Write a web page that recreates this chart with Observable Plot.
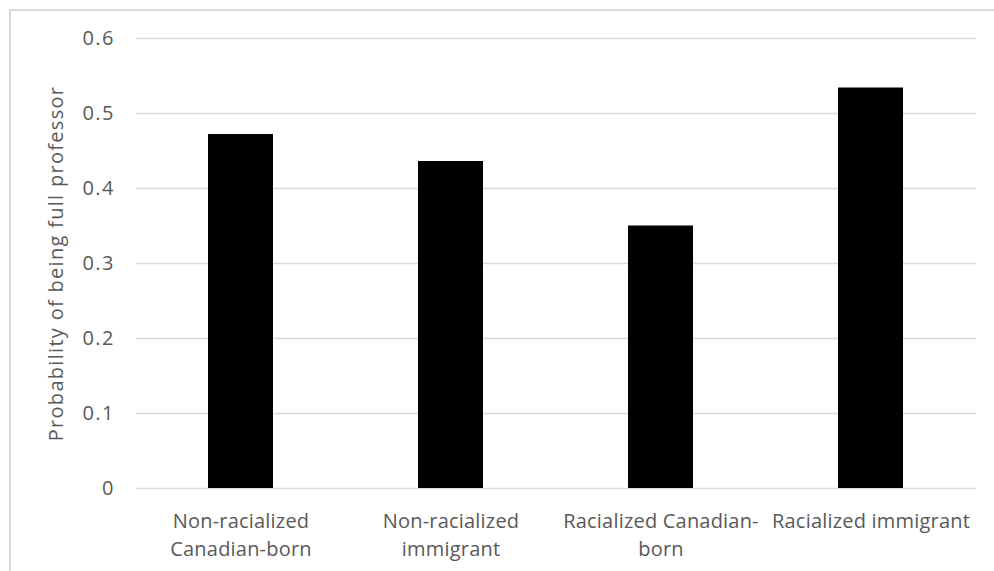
<!DOCTYPE html>
<html>
<head>
<meta charset="utf-8">
<script src="https://cdn.jsdelivr.net/npm/d3@7"></script>
<script src="https://cdn.jsdelivr.net/npm/@observablehq/plot@0.6"></script>
<style>
  html, body { margin: 0; padding: 0; background: #fff; }
  #chart { position: relative; width: 994px; height: 571px; overflow: hidden; }
  #edge { position: absolute; left: 9px; top: 9px; width: 1000px; height: 600px;
          border-left: 2px solid #d9d9d9; border-top: 2px solid #d9d9d9; }
  #chart svg { position: absolute; left: 0; top: 0; }
  #chart g[aria-label="y-axis label"] text { letter-spacing: 1.3px; }
  #chart g[aria-label="y-axis tick label"] text { letter-spacing: 1.5px; }
  #chart g[aria-label="x-axis tick label"] text { letter-spacing: 0.2px; }
</style>
</head>
<body>
<div id="chart"><div id="edge"></div></div>
<script>
// Probability of holding the rank of full professor, by group
const groups = [
  "Non-racialized Canadian-born",
  "Non-racialized immigrant",
  "Racialized Canadian-born",
  "Racialized immigrant"
];
const probabilities = [0.472, 0.436, 0.35, 0.534];
const groupLabels = [
  "Non-racialized\nCanadian-born",
  "Non-racialized\nimmigrant",
  "Racialized Canadian-\nborn",
  "Racialized immigrant"
];
const yTicks = [0, 0.1, 0.2, 0.3, 0.4, 0.5, 0.6];

const rows = groups.map((g, i) => ({group: g, p: probabilities[i]}));
const labelOf = new Map(groups.map((g, i) => [g, groupLabels[i]]));

const chart = Plot.plot({
  width: 994,
  height: 571,
  marginLeft: 136,
  marginRight: 18,
  marginTop: 38,
  marginBottom: 83,
  style: {
    fontFamily: "'Open Sans', sans-serif",
    fontSize: "20px",
    color: "#595959",
    background: "transparent"
  },
  x: {domain: groups, paddingInner: 0.69, paddingOuter: 0.345},
  y: {domain: [0, 0.6]},
  marks: [
    Plot.gridY(yTicks, {stroke: "#d9d9d9", strokeOpacity: 1, strokeWidth: 1.4}),
    Plot.barY(rows, {x: "group", y: "p", fill: "#000"}),
    Plot.axisY(yTicks, {
      tickSize: 0,
      tickPadding: 21.5,
      tickFormat: d => d === 0 ? "0" : d.toFixed(1),
      label: "Probability of being full professor",
      labelAnchor: "center",
      labelOffset: 88,
      labelArrow: false
    }),
    Plot.axisX({
      tickSize: 0,
      tickPadding: 20,
      tickFormat: g => labelOf.get(g),
      lineHeight: 1.4,
      label: null
    })
  ]
});

document.getElementById("chart").appendChild(chart);
</script>
</body>
</html>
